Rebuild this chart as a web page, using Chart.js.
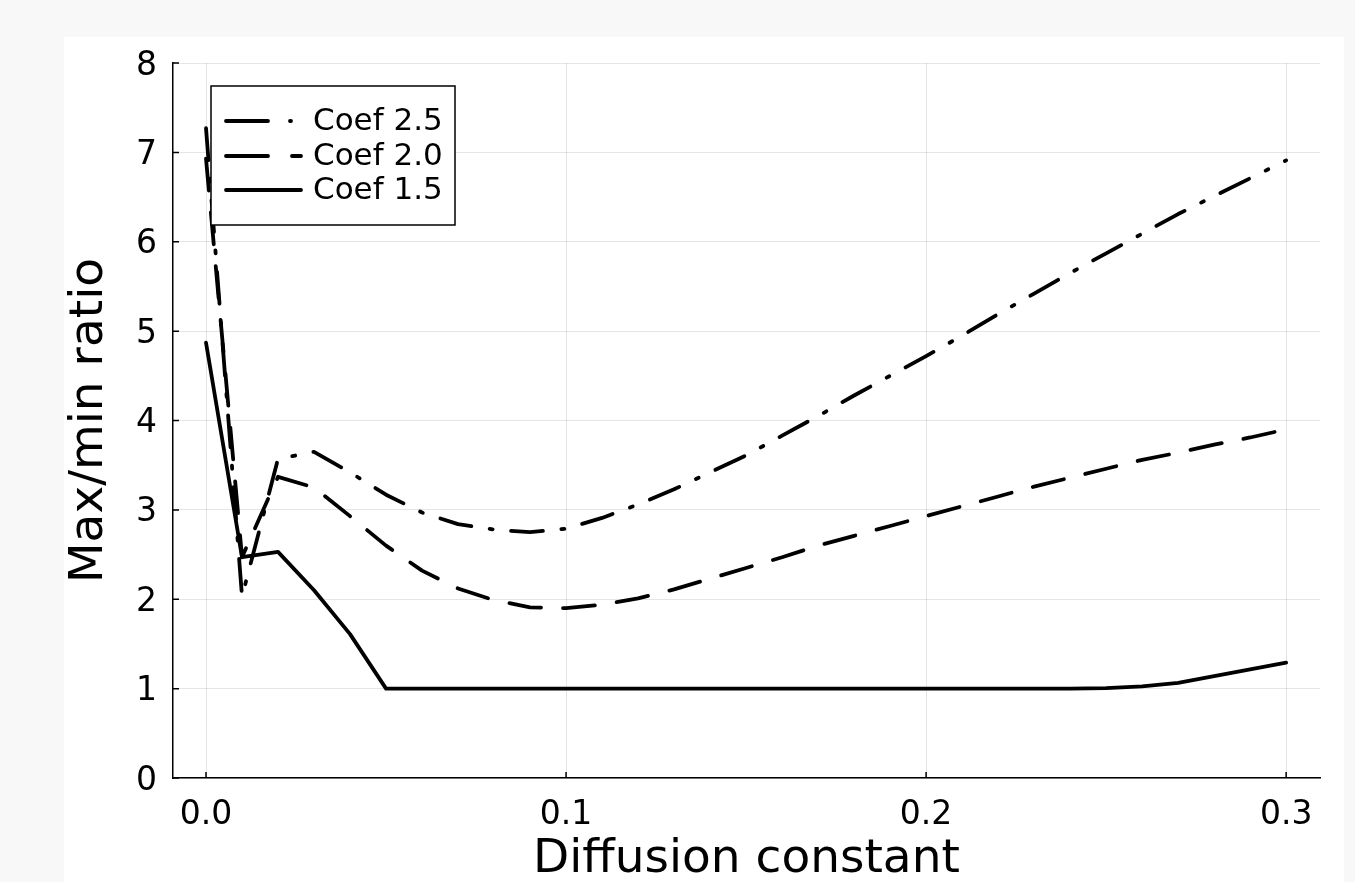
<!DOCTYPE html>
<html>
<head>
<meta charset="utf-8">
<script src="https://cdn.jsdelivr.net/npm/chart.js@4/dist/chart.umd.min.js"></script>
<style>
html,body{margin:0;padding:0;background:#f8f8f8;}
#wrap{width:1355px;height:882px;}
</style>
</head>
<body>
<div id="wrap"><canvas id="c" width="1355" height="882"></canvas></div>
<script>
const diffusion = [0.00,0.01,0.02,0.03,0.04,0.05,0.06,0.07,0.08,0.09,0.10,0.11,0.12,0.13,0.14,0.15,0.16,0.17,0.18,0.19,0.20,0.21,0.22,0.23,0.24,0.25,0.26,0.27,0.28,0.29,0.30];
const coef25 = [7.27,2.03,3.57,3.65,3.42,3.17,2.97,2.84,2.78,2.75,2.79,2.91,3.06,3.23,3.42,3.61,3.83,4.05,4.28,4.50,4.72,4.95,5.19,5.42,5.65,5.87,6.09,6.31,6.51,6.71,6.91];
const coef20 = [6.93,2.47,3.37,3.25,2.93,2.60,2.32,2.12,1.99,1.91,1.90,1.94,2.01,2.11,2.23,2.35,2.47,2.60,2.71,2.82,2.93,3.04,3.15,3.26,3.36,3.46,3.56,3.64,3.73,3.81,3.90];
const coef15 = [4.87,2.47,2.53,2.10,1.61,1.00,1.00,1.00,1.00,1.00,1.00,1.00,1.00,1.00,1.00,1.00,1.00,1.00,1.00,1.00,1.00,1.00,1.00,1.00,1.00,1.005,1.025,1.065,1.14,1.215,1.29];
const seriesLabels = ["Coef 2.5","Coef 2.0","Coef 1.5"];
const xTickValues = [0.0,0.1,0.2,0.3];
const yTickValues = [0,1,2,3,4,5,6,7,8];

const FONT = "'DejaVu Sans', sans-serif";
const dashes = [[32,18.5,3,18.5],[32,22],[]];
const legendDashes = [[42,22,1,200],[42,24,9,200],[]];
const seriesData = [coef25, coef20, coef15];

const datasets = seriesData.map((vals, i) => ({
  label: seriesLabels[i],
  data: diffusion.map((x, j) => ({x: x, y: vals[j]})),
  borderColor: '#000',
  backgroundColor: '#000',
  borderWidth: 3.8,
  borderDash: dashes[i],
  borderCapStyle: 'round',
  borderJoinStyle: 'round',
  pointRadius: 0,
  tension: 0,
  fill: false
}));

const bgPlugin = {
  id: 'bg',
  beforeDraw(chart) {
    const ctx = chart.ctx;
    ctx.save();
    ctx.fillStyle = '#f8f8f8';
    ctx.fillRect(0, 0, chart.width, chart.height);
    ctx.fillStyle = '#ffffff';
    ctx.fillRect(64, 37, 1280, chart.height - 37);
    ctx.restore();
  }
};

const ticksPlugin = {
  id: 'inTicks',
  afterDraw(chart) {
    const ctx = chart.ctx;
    const xs = chart.scales.x, ys = chart.scales.y;
    const ca = chart.chartArea;
    ctx.save();
    ctx.strokeStyle = '#000';
    ctx.lineWidth = 1.5;
    ctx.beginPath();
    xs.ticks.forEach(t => {
      const px = xs.getPixelForValue(t.value);
      ctx.moveTo(px, ca.bottom);
      ctx.lineTo(px, ca.bottom - 6);
    });
    ys.ticks.forEach(t => {
      const py = ys.getPixelForValue(t.value);
      ctx.moveTo(ca.left, py);
      ctx.lineTo(ca.left + 6, py);
    });
    ctx.stroke();
    ctx.restore();
  }
};

const legendPlugin = {
  id: 'boxLegend',
  afterDatasetsDraw(chart) {
    const ctx = chart.ctx;
    const bx = 211, by = 86, bw = 244, bh = 139;
    ctx.save();
    ctx.fillStyle = '#fff';
    ctx.fillRect(bx, by, bw, bh);
    ctx.strokeStyle = '#000';
    ctx.lineWidth = 1.5;
    ctx.setLineDash([]);
    ctx.strokeRect(bx, by, bw, bh);
    const rows = [121, 156, 190];
    chart.data.datasets.forEach((ds, i) => {
      const y = rows[i];
      ctx.strokeStyle = ds.borderColor;
      ctx.lineWidth = ds.borderWidth;
      ctx.lineCap = 'round';
      ctx.setLineDash(legendDashes[i]);
      ctx.beginPath();
      ctx.moveTo(226, y);
      ctx.lineTo(301, y);
      ctx.stroke();
      ctx.setLineDash([]);
      ctx.fillStyle = '#000';
      ctx.font = '31px ' + FONT;
      ctx.textAlign = 'left';
      ctx.textBaseline = 'middle';
      ctx.fillText(ds.label, 313, y + 1);
    });
    ctx.restore();
  }
};

new Chart(document.getElementById('c'), {
  type: 'line',
  data: { datasets: datasets },
  plugins: [bgPlugin, ticksPlugin, legendPlugin],
  options: {
    responsive: false,
    animation: false,
    layout: { padding: { top: 63, right: 35, left: 0, bottom: 0 } },
    plugins: { legend: { display: false }, tooltip: { enabled: false } },
    scales: {
      x: {
        type: 'linear',
        min: -0.00917,
        max: 0.3094,
        afterFit(s) { s.height = 104; },
        afterBuildTicks(s) { s.ticks = xTickValues.map(v => ({value: v})); },
        ticks: {
          color: '#000',
          padding: 18,
          maxRotation: 0,
          font: { family: FONT, size: 33 },
          callback: v => Number(v).toFixed(1)
        },
        grid: { color: 'rgba(0,0,0,0.1)', lineWidth: 1, drawTicks: false },
        border: { display: true, color: '#000', width: 1.5 },
        title: {
          display: true,
          text: 'Diffusion constant',
          color: '#000',
          font: { family: FONT, size: 47, lineHeight: 1 },
          padding: { top: 0, bottom: -1 }
        }
      },
      y: {
        type: 'linear',
        min: 0,
        max: 8,
        afterFit(s) { s.width = 173; },
        afterBuildTicks(s) { s.ticks = yTickValues.map(v => ({value: v})); },
        ticks: {
          color: '#000',
          padding: 16,
          labelOffset: 3,
          font: { family: FONT, size: 33 },
          callback: v => String(v)
        },
        grid: { color: 'rgba(0,0,0,0.1)', lineWidth: 1, drawTicks: false },
        border: { display: true, color: '#000', width: 1.5 },
        title: {
          display: true,
          text: 'Max/min ratio',
          color: '#000',
          font: { family: FONT, size: 47, lineHeight: 1 },
          padding: { top: 66, bottom: 0 }
        }
      }
    }
  }
});
</script>
</body>
</html>
